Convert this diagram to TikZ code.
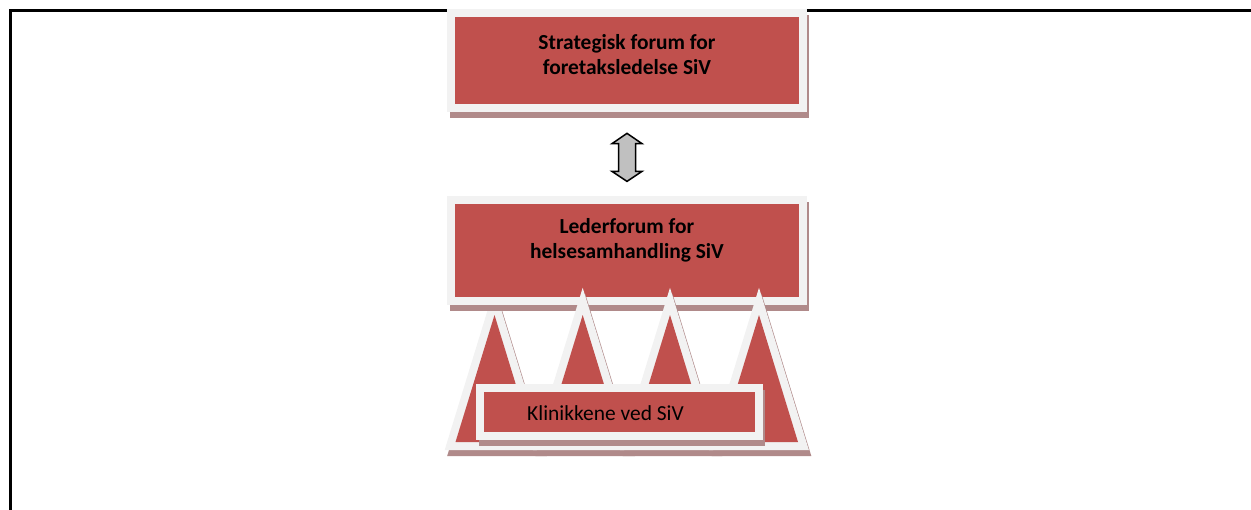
\documentclass[tikz,border=0pt]{standalone}
\usepackage{fontspec}
\setmainfont{Carlito}
\usepackage{xcolor}
\usepackage{tikz}
\usetikzlibrary{calc}
\definecolor{siVred}{HTML}{C0504D}
\definecolor{siVframe}{HTML}{F2F2F2}
\definecolor{siVshadow}{HTML}{B08A8A}
\definecolor{siVarrow}{HTML}{C0C0C0}

\begin{document}
\begin{tikzpicture}[
    x=0.02cm, y=-0.02cm,
    shadowed/.style={preaction={fill=siVshadow, draw=siVshadow, line width=3.2mm, line join=miter, transform canvas={shift={(0.5mm,-1.2mm)}}}},
    framed/.style={preaction={draw=siVframe, line width=3.2mm, line join=miter}},
    box/.style={rectangle, fill=siVred, inner sep=0pt, minimum width=6.88cm, shadowed, framed},
    tri/.style={fill=siVred, shadowed, framed},
    boldtxt/.style={align=center, font=\bfseries\fontsize{12.2}{14.4}\selectfont},
    plaintxt/.style={font=\fontsize{12.2}{14.4}\selectfont},
    dblarrow/.style={draw=black, fill=siVarrow, line width=0.3mm, line join=miter},
    pageline/.style={draw=black, line width=0.55mm}
]
    \useasboundingbox (0,0) rectangle (1251,510);

    % Page frame
    \draw[pageline] (1251,10.5) -- (10.5,10.5) -- (10.5,510);

    % Top forum
    \node[box, minimum height=1.75cm] (strat) at (627,60.75) {};
    \node[boldtxt] (strattxt) at (627,54.5) {Strategisk forum for\\ foretaksledelse SiV};

    % Leftmost triangle sits under the leader forum
    \path[tri] (494.5,315) -- (533.5,442) -- (455.5,442) -- cycle;

    % Leader forum
    \node[box, minimum height=1.86cm] (leder) at (627,250.5) {};
    \node[boldtxt] (ledertxt) at (627,240.5) {Lederforum for\\ helsesamhandling SiV};

    % Two-way arrow between the forums
    \coordinate (atip) at ($(strat.south)+(0,28.5)$);
    \coordinate (btip) at ($(leder.north)+(0,-22.3)$);
    \draw[dblarrow] (atip) -- ++(15,10.3) -- ++(-6.5,0) -- ($(btip)+(8.5,-10)$)
        -- ++(6.5,0) -- (btip) -- ++(-15,-10) -- ++(6.5,0)
        -- ($(atip)+(-8.5,10.3)$) -- ++(-6.5,0) -- cycle;

    % Remaining triangles
    \foreach \cx in {582.7, 670, 759}
        \path[tri] (\cx,315) -- (\cx+39,442) -- (\cx-39,442) -- cycle;

    % Clinics
    \node[box, minimum width=5.42cm, minimum height=0.8cm] (klin) at (619.5,412) {};
    \node[plaintxt] (klintxt) at (605.5,413) {Klinikkene ved SiV};
\end{tikzpicture}
\end{document}
